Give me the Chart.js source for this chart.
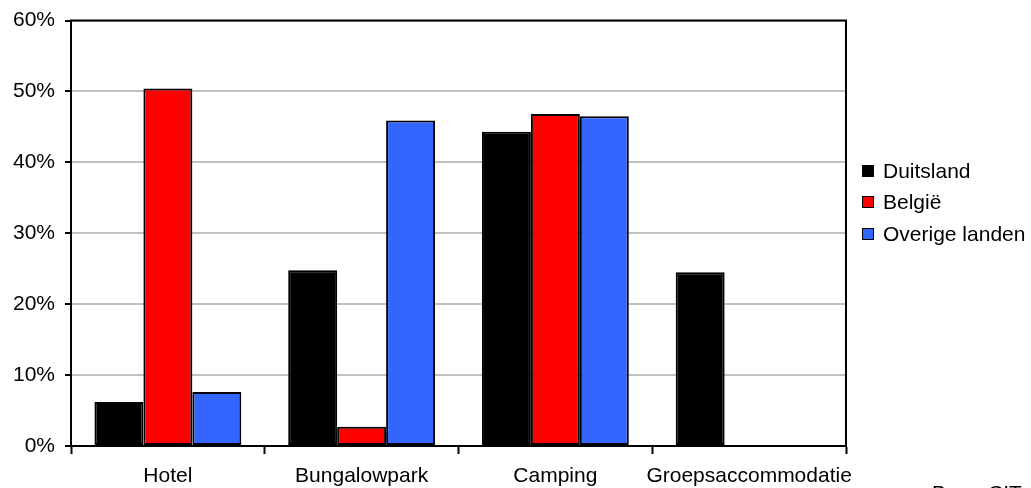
<!DOCTYPE html>
<html>
<head>
<meta charset="utf-8">
<script src="https://cdn.jsdelivr.net/npm/chart.js@4/dist/chart.umd.min.js"></script>
<style>
    body { margin: 0; background: #fff; font-family: "Liberation Sans", Arial, sans-serif; }
    #wrap { position: relative; width: 1031px; height: 488px; overflow: hidden; }
    #legend { position: absolute; left: 862px; top: 155px; font-size: 21px; color: #000; }
    .item { display: flex; align-items: center; height: 31.5px; white-space: nowrap; }
    .box { width: 10px; height: 10px; border: 1px solid #000; margin-right: 9px; }
    #source { position: absolute; left: 932px; top: 481px; font-size: 21px; color: #000; }
</style>
</head>
<body>
<div id="wrap">
    <canvas id="chart" width="1031" height="488"></canvas>
    <div id="legend"></div>
    <div id="source">Bron: CIT</div>
</div>
<script>
const categories = ['Hotel', 'Bungalowpark', 'Camping', 'Groepsaccommodatie'];
const seriesNames = ['Duitsland', 'België', 'Overige landen'];
const duitsland = [6.2, 24.8, 44.3, 24.5];
const belgie = [50.4, 2.7, 46.8, 0];
const overige = [7.6, 45.9, 46.5, 0];
const colors = ['#000000', '#ff0000', '#3366ff'];

// black frame around the plot area
const framePlugin = {
    id: 'frame',
    afterDatasetsDraw(chart) {
        const a = chart.chartArea;
        const ctx = chart.ctx;
        ctx.save();
        ctx.strokeStyle = '#000';
        ctx.lineWidth = 2;
        ctx.strokeRect(a.left, a.top, a.right - a.left, a.bottom - a.top);
        ctx.restore();
    }
};

const legendEl = document.getElementById('legend');
seriesNames.forEach((name, i) => {
    const row = document.createElement('div');
    row.className = 'item';
    row.innerHTML = `<span class="box" style="background:${colors[i]}"></span><span>${name}</span>`;
    legendEl.appendChild(row);
});

const ctx = document.getElementById('chart').getContext('2d');
new Chart(ctx, {
    type: 'bar',
    data: {
        labels: categories,
        datasets: [duitsland, belgie, overige].map((d, i) => ({
            label: seriesNames[i],
            data: d,
            backgroundColor: colors[i],
            borderColor: '#000',
            borderWidth: 2,
            borderSkipped: false,
            barPercentage: 1,
            categoryPercentage: 0.758
        }))
    },
    options: {
        responsive: false,
        animation: false,
        layout: { padding: { top: 0, right: 185, left: 0, bottom: 0 } },
        plugins: {
            legend: { display: false },
            tooltip: { enabled: false }
        },
        scales: {
            x: {
                afterFit: s => { s.height = 42; },
                grid: { offset: true, drawOnChartArea: false, tickLength: 8, tickColor: '#000', tickWidth: 2 },
                border: { color: '#000', width: 2 },
                ticks: { color: '#000', font: { family: 'Liberation Sans', size: 21 }, padding: 10, maxRotation: 0, autoSkip: false }
            },
            y: {
                min: 0,
                max: 60,
                afterFit: s => { s.width = 71; },
                grid: { color: '#c0c0c0', lineWidth: 2, tickLength: 6, tickColor: '#000', tickWidth: 2 },
                border: { color: '#000', width: 2 },
                ticks: {
                    stepSize: 10,
                    color: '#000',
                    padding: 10,
                    font: { family: 'Liberation Sans', size: 21, lineHeight: 1.0 },
                    callback: v => v + '%'
                }
            }
        }
    },
    plugins: [framePlugin]
});
</script>
</body>
</html>
